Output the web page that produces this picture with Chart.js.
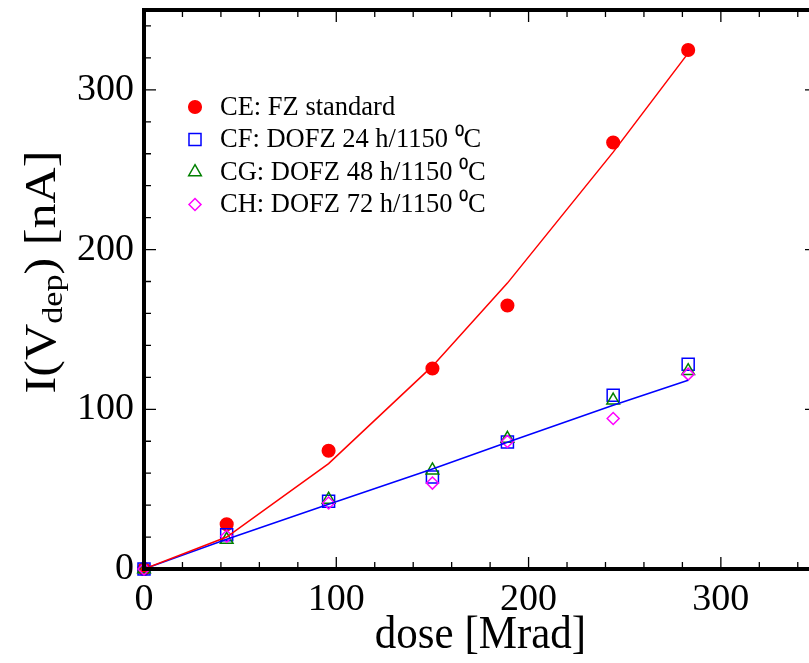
<!DOCTYPE html>
<html>
<head>
<meta charset="utf-8">
<script src="https://cdn.jsdelivr.net/npm/chart.js@4.4.1/dist/chart.umd.min.js"></script>
<style>
  html, body { margin: 0; padding: 0; background: #fff; overflow: hidden; }
</style>
</head>
<body>
<canvas id="doseChart" width="830" height="663"></canvas>
<script>
// values
const dose = [0, 43, 96, 150, 189, 244, 283];
const ceFZ = [0, 28, 74, 125.5, 165, 267, 325];
const cfDOFZ24 = [0, 21.5, 42.4, 57.6, 79.5, 108.8, 128.2];
const cgDOFZ48 = [0, 18.4, 43.5, 61.8, 81.6, 105.6, 124];
const chDOFZ72 = [0, 20.5, 41.3, 53.8, 79.8, 94.2, 122];
const fitFZ = [0, 20, 66, 127, 179, 261, 323];
const fitDOFZ = [0, 18.6, 40.5, 62.6, 79.4, 102.5, 118.2];

const legendLabels = [
  'CE: FZ standard',
  'CF: DOFZ 24 h/1150 \u2070C',
  'CG: DOFZ 48 h/1150 \u2070C',
  'CH: DOFZ 72 h/1150 \u2070C'
];

const serif = '"Liberation Serif", "Times New Roman", serif';
const pts = ys => dose.map((d, i) => ({ x: d, y: ys[i] }));

function marker(label, ys, color, style, radius, filled, order) {
  return {
    label: label,
    data: pts(ys),
    showLine: false,
    pointStyle: style,
    pointRadius: radius,
    pointHoverRadius: radius,
    pointBorderWidth: 1.5,
    borderColor: color,
    backgroundColor: filled ? color : 'rgba(0,0,0,0)',
    clip: false,
    order: order
  };
}

function fitLine(ys, color) {
  return {
    label: 'fit',
    data: pts(ys),
    showLine: true,
    borderColor: color,
    borderWidth: 1.5,
    pointRadius: 0,
    tension: 0,
    fill: false,
    order: 0
  };
}

// frame on four sides with inward ticks
const frame = {
  id: 'frame',
  afterDatasetsDraw(chart) {
    const { ctx, chartArea: a, scales: { x, y } } = chart;
    ctx.save();
    ctx.strokeStyle = '#000';
    ctx.lineWidth = 1.3;
    ctx.beginPath();
    for (let v = 0; v <= 350; v += 20) {
      const px = x.getPixelForValue(v);
      const len = v % 100 === 0 ? 12 : 7;
      ctx.moveTo(px, a.bottom); ctx.lineTo(px, a.bottom - len);
      ctx.moveTo(px, a.top); ctx.lineTo(px, a.top + len);
      const py = y.getPixelForValue(v);
      ctx.moveTo(a.left, py); ctx.lineTo(a.left + len, py);
      ctx.moveTo(a.right, py); ctx.lineTo(a.right - len, py);
    }
    ctx.stroke();
    ctx.lineWidth = 4;
    ctx.strokeRect(a.left, a.top, a.right - a.left, a.bottom - a.top);
    ctx.restore();
  }
};

// legend inside the plot and the axis titles
const labels = {
  id: 'labels',
  afterDraw(chart) {
    const { ctx, chartArea: a } = chart;
    const sets = chart.data.datasets.slice(0, 4);
    ctx.save();
    ctx.font = '26.5px ' + serif;
    ctx.textBaseline = 'middle';
    ctx.textAlign = 'left';
    sets.forEach((ds, i) => {
      const yy = 107 + i * 32.5;
      ctx.strokeStyle = ds.borderColor;
      ctx.fillStyle = ds.backgroundColor;
      ctx.lineWidth = 1.5;
      Chart.helpers.drawPoint(ctx, { pointStyle: ds.pointStyle, radius: ds.pointRadius, borderWidth: 1.5 }, 195, yy);
      ctx.fillStyle = '#000';
      ctx.fillText(legendLabels[i], 220, yy + 1);
    });

    // x title
    ctx.fillStyle = '#000';
    ctx.textBaseline = 'alphabetic';
    ctx.textAlign = 'center';
    ctx.font = '43px ' + serif;
    ctx.save();
    ctx.translate((a.left + a.right) / 2, 648);
    ctx.scale(1, 1.1);
    ctx.fillText('dose [Mrad]', 0, 0);
    ctx.restore();

    // y title with subscript
    const big = '44px ' + serif, small = '30px ' + serif;
    const parts = [['I(V', big, 0], ['dep', small, 7], [') [nA]', big, 0]];
    let total = 0;
    parts.forEach(p => { ctx.font = p[1]; total += ctx.measureText(p[0]).width; });
    ctx.translate(55, 272);
    ctx.rotate(-Math.PI / 2);
    ctx.scale(1.14, 1);
    ctx.textAlign = 'left';
    let cx = -total / 2;
    parts.forEach(p => {
      ctx.font = p[1];
      ctx.fillText(p[0], cx, p[2]);
      cx += ctx.measureText(p[0]).width;
    });
    ctx.restore();
  }
};

const tickFont = { family: serif, size: 38 };

new Chart(document.getElementById('doseChart'), {
  type: 'scatter',
  data: {
    datasets: [
      marker(legendLabels[0], ceFZ, '#ff0000', 'circle', 6.3, true, 4),
      marker(legendLabels[1], cfDOFZ24, '#0000ff', 'rect', 8.5, false, 3),
      marker(legendLabels[2], cgDOFZ48, '#008000', 'triangle', 7.3, false, 2),
      marker(legendLabels[3], chDOFZ72, '#ff00ff', 'rectRot', 6, false, 1),
      fitLine(fitFZ, '#ff0000'),
      fitLine(fitDOFZ, '#0000ff')
    ]
  },
  options: {
    responsive: false,
    animation: false,
    layout: { padding: { left: 0, top: 10, right: 13, bottom: 0 } },
    plugins: { legend: { display: false }, tooltip: { enabled: false } },
    scales: {
      x: {
        type: 'linear',
        min: 0, max: 350,
        grid: { display: false },
        border: { display: false },
        ticks: { stepSize: 100, includeBounds: false, padding: 0, color: '#000', font: tickFont },
        afterFit: s => { s.height = 94; s.paddingLeft = 0; s.paddingRight = 0; }
      },
      y: {
        type: 'linear',
        min: 0, max: 350,
        grid: { display: false },
        border: { display: false },
        ticks: { stepSize: 100, includeBounds: false, padding: 2, color: '#000', font: tickFont },
        afterFit: s => { s.width = 144; s.paddingTop = 0; s.paddingBottom = 0; }
      }
    }
  },
  plugins: [frame, labels]
});
</script>
</body>
</html>
